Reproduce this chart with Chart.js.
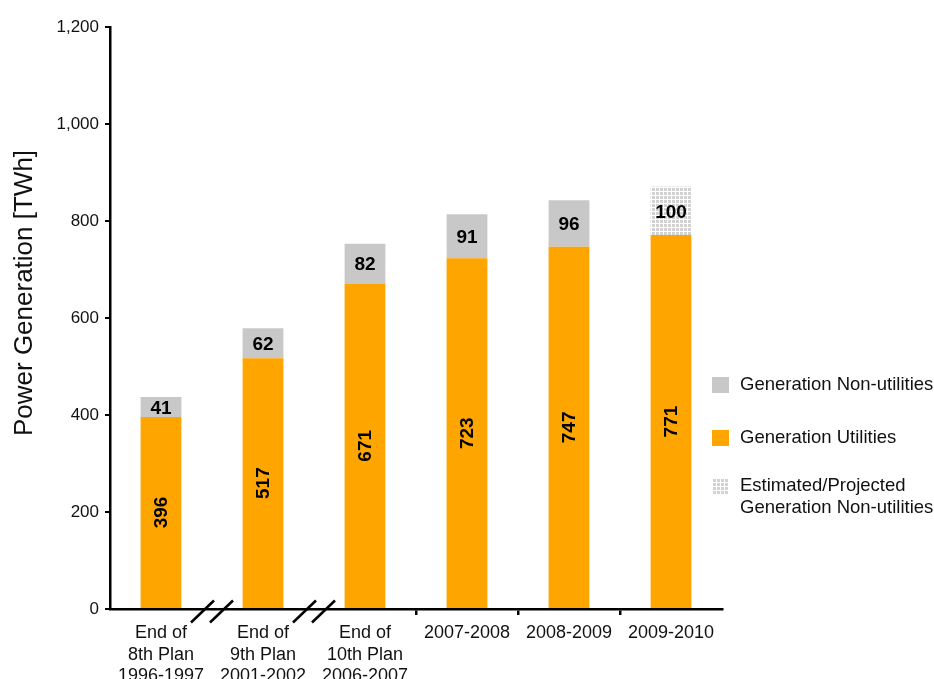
<!DOCTYPE html>
<html>
<head>
<meta charset="utf-8">
<title>Power Generation</title>
<script src="https://cdn.jsdelivr.net/npm/chart.js@4/dist/chart.umd.min.js"></script>
<style>
  body { margin: 0; background: #fff; font-family: "Liberation Sans", Arial, sans-serif; }
  #wrap { position: relative; width: 934px; height: 679px; overflow: hidden; }
  #legend { position: absolute; left: 712px; top: 0; font-size: 18.5px; color: #111; }
  .item { position: absolute; left: 0; white-space: nowrap; }
  .swatch { position: absolute; left: 0; width: 17px; height: 16px; }
  .label { position: absolute; left: 28px; line-height: 22px; }
  .hatch {
    background-color: #d2d2d2;
    background-image: linear-gradient(to right, #fff 1px, transparent 1px),
                      linear-gradient(to bottom, #fff 1px, transparent 1px);
    background-size: 4px 4px;
  }
</style>
</head>
<body>
<div id="wrap">
  <canvas id="genChart"></canvas>
  <div id="legend">
    <div class="item" style="top:373px"><div class="swatch" style="top:4px;background:#c8c8c8"></div><div class="label">Generation Non-utilities</div></div>
    <div class="item" style="top:426px"><div class="swatch" style="top:4px;background:#ffa500"></div><div class="label">Generation Utilities</div></div>
    <div class="item" style="top:474px"><div class="swatch hatch" style="top:4px"></div><div class="label">Estimated/Projected<br>Generation Non-utilities</div></div>
  </div>
</div>
<script>
// Plan periods and yearly generation, TWh
const periods = [
  ['End of', '8th Plan', '1996-1997'],
  ['End of', '9th Plan', '2001-2002'],
  ['End of', '10th Plan', '2006-2007'],
  '2007-2008',
  '2008-2009',
  '2009-2010'
];
const utilities = [396, 517, 671, 723, 747, 771];
const nonUtilities = [41, 62, 82, 91, 96, null];
const projectedNonUtilities = [null, null, null, null, null, 100];
const yTicks = [0, 200, 400, 600, 800, 1000, 1200];

const ORANGE = '#ffa500';
const GREY = '#c8c8c8';
const FONT = '"Liberation Sans", Arial, sans-serif';

Chart.defaults.font.family = FONT;
Chart.defaults.color = '#000';

// small grid pattern for the projected segment
function makeHatch() {
  const c = document.createElement('canvas');
  c.width = 4;
  c.height = 4;
  const g = c.getContext('2d');
  g.fillStyle = '#d2d2d2';
  g.fillRect(0, 0, 4, 4);
  g.fillStyle = '#ffffff';
  g.fillRect(3, 0, 1, 4);
  g.fillRect(0, 3, 4, 1);
  return g.createPattern(c, 'repeat');
}

// value labels inside the bars
const barLabels = {
  id: 'barLabels',
  afterDatasetsDraw(chart) {
    const ctx = chart.ctx;
    ctx.save();
    ctx.fillStyle = '#000';
    ctx.font = 'bold 19px ' + FONT;
    ctx.textAlign = 'center';
    ctx.textBaseline = 'middle';
    chart.data.datasets.forEach((ds, di) => {
      chart.getDatasetMeta(di).data.forEach((bar, i) => {
        const v = ds.data[i];
        if (v == null) return;
        const mid = (bar.y + bar.base) / 2;
        if (di === 0) {
          ctx.save();
          ctx.translate(bar.x, mid);
          ctx.rotate(-Math.PI / 2);
          ctx.fillText(String(v), 0, 1);
          ctx.restore();
        } else {
          ctx.fillText(String(v), bar.x, mid + 1.5);
        }
      });
    });
    ctx.restore();
  }
};

// axis breaks between the plan periods, plus the y axis title
const axisExtras = {
  id: 'axisExtras',
  afterDraw(chart) {
    const ctx = chart.ctx;
    const x = chart.scales.x;
    const area = chart.chartArea;
    ctx.save();
    ctx.strokeStyle = '#000';
    ctx.lineWidth = 2.5;
    [0, 1].forEach(i => {
      const xb = (x.getPixelForValue(i) + x.getPixelForValue(i + 1)) / 2;
      [-9.5, 9.5].forEach(dx => {
        const cx = xb + dx;
        const cy = area.bottom + 2.5;
        ctx.beginPath();
        ctx.moveTo(cx - 11.5, cy + 11);
        ctx.lineTo(cx + 11.5, cy - 11);
        ctx.stroke();
      });
    });

    ctx.translate(25, area.top + (area.bottom - area.top) * 0.457);
    ctx.rotate(-Math.PI / 2);
    ctx.font = '26px ' + FONT;
    ctx.textAlign = 'center';
    ctx.textBaseline = 'middle';
    ctx.fillStyle = '#111';
    ctx.fillText('Power Generation [TWh]', 0, 0);
    ctx.restore();
  }
};

new Chart(document.getElementById('genChart'), {
  type: 'bar',
  data: {
    labels: periods,
    datasets: [
      { label: 'Generation Utilities', data: utilities, backgroundColor: ORANGE },
      { label: 'Generation Non-utilities', data: nonUtilities, backgroundColor: GREY },
      { label: 'Estimated/Projected Generation Non-utilities', data: projectedNonUtilities, backgroundColor: makeHatch() }
    ]
  },
  options: {
    responsive: true,
    maintainAspectRatio: false,
    animation: false,
    categoryPercentage: 0.4,
    barPercentage: 1,
    layout: { padding: { top: 27, right: 212, left: 0, bottom: 0 } },
    plugins: { legend: { display: false }, tooltip: { enabled: false } },
    scales: {
      x: {
        stacked: true,
        border: { color: '#000', width: 2.5 },
        grid: {
          drawOnChartArea: false,
          tickLength: 6,
          lineWidth: 2.5,
          color: ctx => (ctx.index >= 3 && ctx.index <= 5 ? '#000' : 'rgba(0,0,0,0)')
        },
        ticks: { font: { size: 18, lineHeight: 1.17 }, color: '#111', padding: 8, maxRotation: 0 },
        afterFit: scale => { scale.height = 70; }
      },
      y: {
        stacked: true,
        min: 0,
        max: 1200,
        border: { color: '#000', width: 2.5 },
        grid: { drawOnChartArea: false, tickLength: 5, lineWidth: 2, color: '#000' },
        afterBuildTicks: scale => { scale.ticks = yTicks.map(v => ({ value: v })); },
        ticks: {
          font: { size: 17 },
          color: '#111',
          padding: 6,
          callback: v => v.toLocaleString('en-US')
        },
        afterFit: scale => { scale.width = 110; }
      }
    }
  },
  plugins: [barLabels, axisExtras]
});
</script>
</body>
</html>
